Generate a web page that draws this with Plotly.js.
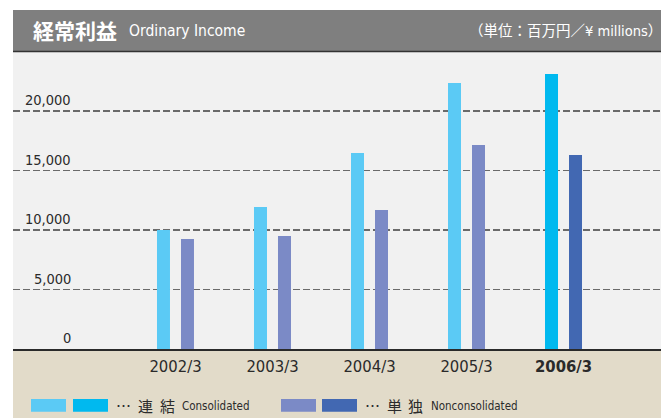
<!DOCTYPE html>
<html>
<head>
<meta charset="utf-8">
<script src="https://cdn.plot.ly/plotly-3.0.1.min.js"></script>
<style>
html,body{margin:0;padding:0;background:#fff;}
#chart{width:661px;height:418px;}
</style>
</head>
<body>
<div id="chart"></div>
<script>
// ---- data ----
const categories = ["2002/3", "2003/3", "2004/3", "2005/3", "2006/3"];
const tickLabels = ["2002/3", "2003/3", "2004/3", "2005/3", "<b>2006/3</b>"];
const consolidated = [10000, 11930, 16470, 22350, 23100];
const nonconsolidated = [9250, 9500, 11680, 17150, 16300];
const yTickValues = [0, 5000, 10000, 15000, 20000];
const yTickLabels = ["0", "5,000", "10,000", "15,000", "20,000"];

// ---- styles ----
const consColors = ["#5bcaf5", "#5bcaf5", "#5bcaf5", "#5bcaf5", "#00b9ef"];
const nonColors = ["#7b8ac6", "#7b8ac6", "#7b8ac6", "#7b8ac6", "#4268b2"];
const LATIN = "'DejaVu Sans Condensed', 'Noto Sans CJK JP', sans-serif";
const CJK = "'Noto Sans CJK JP', 'DejaVu Sans Condensed', sans-serif";

const W = 661, H = 418;
const mL = 13, mR = 0, mT = 52, mB = 69;
const pw = W - mL - mR, ph = H - mT - mB;
const px = x => (x - mL) / pw;           // pixel x -> paper
const py = y => (H - mB - y) / ph;       // pixel y -> paper

const traces = [
  {
    type: "bar", x: categories, y: consolidated,
    marker: {color: consColors, line: {width: 0}},
    width: 0.134, offset: -0.1907, hoverinfo: "skip"
  },
  {
    type: "bar", x: categories, y: nonconsolidated,
    marker: {color: nonColors, line: {width: 0}},
    width: 0.134, offset: 0.0567, hoverinfo: "skip"
  }
];

const annotations = [];
yTickValues.forEach((v, i) => {
  annotations.push({
    xref: "paper", yref: "y", x: px(73), y: v, xanchor: "right", yanchor: "middle",
    yshift: 11, showarrow: false, text: yTickLabels[i],
    font: {family: LATIN, size: 14.5, color: "#2b2b2b"}
  });
});
function note(x, y, text, family, size, color, anchor) {
  annotations.push({xref: "paper", yref: "paper", x: px(x), y: py(y), xanchor: anchor || "left",
    yanchor: "middle", showarrow: false, text: text, font: {family: family, size: size, color: color}});
}
note(31, 30, "<b>経常利益</b>", CJK, 21, "#ffffff");
note(127, 31, "Ordinary Income", LATIN, 15.5, "#ffffff");
note(664, 31, "（単位：百万円／¥ millions）", LATIN, 14.5, "#ffffff", "right");
note(114, 405, "…", CJK, 15, "#2b2b2b");
note(136, 405, "連", CJK, 15, "#2b2b2b");
note(158, 405, "結", CJK, 15, "#2b2b2b");
note(180, 406, "Consolidated", LATIN, 11.5, "#2b2b2b");
note(363, 405, "…", CJK, 15, "#2b2b2b");
note(385, 405, "単", CJK, 15, "#2b2b2b");
note(406, 405, "独", CJK, 15, "#2b2b2b");
note(429, 406, "Nonconsolidated", LATIN, 11.5, "#2b2b2b");

const legendBoxes = [
  [31, 66, consColors[0]], [73, 108, consColors[4]],
  [281, 316, nonColors[0]], [322, 357, nonColors[4]]
];
const shapes = [
  {type: "rect", xref: "paper", yref: "paper", x0: 0, x1: 1, y0: py(51), y1: py(10),
   fillcolor: "#7f7f7f", line: {width: 0}, layer: "below"},
  {type: "line", xref: "paper", yref: "paper", x0: 0, x1: 1, y0: py(51.5), y1: py(51.5),
   line: {color: "#333333", width: 1.5}},
  {type: "rect", xref: "paper", yref: "paper", x0: 0, x1: 1, y0: py(H + 2), y1: 0,
   fillcolor: "#e2dbc9", line: {width: 0}, layer: "below"}
];
legendBoxes.forEach(b => shapes.push({
  type: "rect", xref: "paper", yref: "paper", x0: px(b[0]), x1: px(b[1]), y0: py(411.7), y1: py(399),
  fillcolor: b[2], line: {width: 0}
}));

const layout = {
  width: W, height: H,
  margin: {l: mL, r: mR, t: mT, b: mB, pad: 0},
  paper_bgcolor: "#ffffff", plot_bgcolor: "#f1f1f1",
  showlegend: false, barmode: "overlay",
  xaxis: {
    type: "category", range: [-1.675, 5.005], fixedrange: true,
    tickvals: categories, ticktext: tickLabels, ticks: "", showgrid: false,
    showline: true, linecolor: "#2a2a2a", linewidth: 1.5, zeroline: false,
    tickfont: {family: LATIN, size: 16.5, color: "#2a2a2a"}, ticklabelstandoff: 2
  },
  yaxis: {
    range: [0, 24958], tickvals: yTickValues, showticklabels: false, ticks: "",
    showgrid: true, gridcolor: "#6a6a6a", gridwidth: 1.5, griddash: "7px,3px",
    zeroline: false, showline: false, fixedrange: true
  },
  shapes: shapes, annotations: annotations
};

Plotly.newPlot("chart", traces, layout, {displayModeBar: false, staticPlot: true});
</script>
</body>
</html>
